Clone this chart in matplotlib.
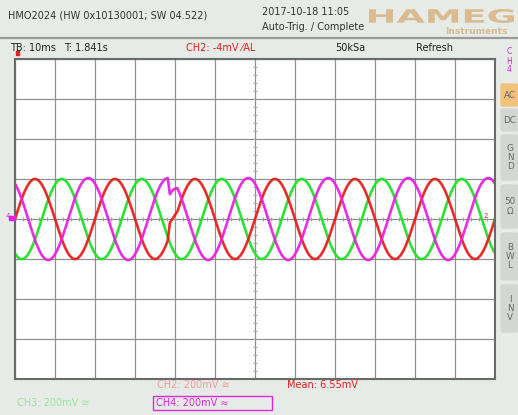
import numpy as np
import matplotlib
matplotlib.use("Agg")
import matplotlib.pyplot as plt
from matplotlib.patches import Rectangle, FancyBboxPatch, PathPatch
from matplotlib.textpath import TextPath
from matplotlib.font_manager import FontProperties
from matplotlib.transforms import Affine2D, IdentityTransform

tb_ms = 10          # ms por división
v_div = 200         # mV por división
n_div_x = 12
n_div_y = 8

# Señales trifásicas medidas: amplitud pico (mV), periodo (ms), instante del primer pico (ms)
canales = ["CH2", "CH3", "CH4"]
colores = ["#e8201c", "#22e02a", "#e424e0"]
amplitud = [200, 200, 205]
periodo = [20.0, 20.0, 20.0]
primer_pico = [5.0, 11.7, 18.3]

# Pequeño fallo visible cerca de t = 38 ms (desvío en mV)
fallo_t = [38.2, 38.7, 39.4, 40.6]
fallo_ch2 = [0, 60, 40, 0]
fallo_ch4 = [0, -80, -50, 0]

W, H = 518, 415
fig = plt.figure(figsize=(W / 100, H / 100), dpi=100)
fig.patch.set_facecolor("#e7ebe8")
plt.rcParams["font.family"] = ["DejaVu Sans"]


def fx(x):
    return x / W


def fy(y):
    return 1 - y / H


ax = fig.add_axes([fx(15), fy(379), 480 / W, 320 / H])
ax.set_facecolor("white")
ax.set_xlim(0, n_div_x * tb_ms)
ax.set_ylim(-n_div_y / 2 * v_div, n_div_y / 2 * v_div)
ax.set_xticks(np.arange(0, n_div_x * tb_ms + 1, tb_ms))
ax.set_yticks(np.arange(-n_div_y / 2 * v_div, n_div_y / 2 * v_div + 1, v_div))
ax.grid(True, color="#909090", lw=0.9)
ax.tick_params(length=0, labelbottom=False, labelleft=False)
for s in ax.spines.values():
    s.set_color("#6a6a6a")
    s.set_linewidth(1.5)

# marcas pequeñas en los ejes centrales
xm = np.arange(0, n_div_x * tb_ms + 0.1, tb_ms / 5)
ym = np.arange(-n_div_y / 2 * v_div, n_div_y / 2 * v_div + 1, v_div / 5)
ax.plot(xm, np.zeros_like(xm), ls="none", marker="|", ms=3, color="#a0a0a0", mew=0.7)
ax.plot(np.full_like(ym, 60.0), ym, ls="none", marker="_", ms=3, color="#a0a0a0", mew=0.7)

t = np.linspace(0, n_div_x * tb_ms, 2400)
fallos = [np.interp(t, fallo_t, fallo_ch2, left=0, right=0),
          np.zeros_like(t),
          np.interp(t, fallo_t, fallo_ch4, left=0, right=0)]
orden = [1, 0, 2]
for i in orden:
    v = amplitud[i] * np.cos(2 * np.pi * (t - primer_pico[i]) / periodo[i]) + fallos[i]
    ax.plot(t, v, color=colores[i], lw=1.9, alpha=0.95, solid_capstyle="butt")

# marcadores de referencia
fig.text(fx(6), fy(216), "4", color="#e424e0", fontsize=5, va="center")
fig.patches.append(Rectangle((fx(9), fy(220)), 6 / W, 4 / H, color="#e424e0", transform=fig.transFigure))
fig.patches.append(Rectangle((fx(16), fy(55)), 3 / W, 4 / H, color="#e8201c", transform=fig.transFigure))
fig.text(fx(484), fy(216), "2", color="#e8201c", fontsize=5, va="center")

# cabecera
gris = "#333333"
fs = 7.0
fig.text(fx(8), fy(15), "HMO2024 (HW 0x10130001; SW 04.522)", color=gris, fontsize=fs, va="center")
fig.text(fx(262), fy(12), "2017-10-18 11:05", color=gris, fontsize=fs, va="center")
fig.text(fx(262), fy(27), "Auto-Trig. / Complete", color=gris, fontsize=fs, va="center")

# logotipo: texto ensanchado para ocupar la caja del original
logo = "#d9bb8f"
tp = TextPath((0, 0), "HAMEG", size=10, prop=FontProperties(family="DejaVu Sans", weight="heavy"))
ext = tp.get_extents()
x0, x1, yt, yb = 369, 514, 9, 23
sx = (x1 - x0) / ext.width
sy = (yb - yt) / ext.height
tr = Affine2D().translate(-ext.x0, -ext.y0).scale(sx, sy).translate(x0, H - yb)
fig.patches.append(PathPatch(tr.transform_path(tp), color=logo, lw=0, transform=IdentityTransform()))
fig.text(fx(476), fy(31), "Instruments", color=logo, fontsize=6.5, fontweight="bold",
         ha="center", va="center")
fig.add_artist(plt.Line2D([0, 1], [fy(38.5), fy(38.5)], color="#9a9a9a", lw=1.6))

fig.text(fx(10), fy(48), "TB: 10ms", color="#222222", fontsize=fs, va="center")
fig.text(fx(64), fy(48), "T: 1.841s", color="#222222", fontsize=fs, va="center")
fig.text(fx(186), fy(48), "CH2: -4mV ⁄AL", color="#e8201c", fontsize=fs, va="center")
fig.text(fx(335), fy(48), "50kSa", color="#222222", fontsize=fs, va="center")
fig.text(fx(416), fy(48), "Refresh", color="#222222", fontsize=fs, va="center")
for letra, yl in zip("CH4", [52, 61, 70]):
    fig.text(fx(509), fy(yl), letra, color="#e424e0", fontsize=5.5, ha="center", va="center")

# botones laterales
botones = [("AC", 84, 106, "#f2c27a"), ("DC", 109, 131, "#d4d6d4"),
           ("G\nN\nD", 135, 180, "#d4d6d4"), ("50\nΩ", 185, 228, "#d4d6d4"),
           ("B\nW\nL", 233, 280, "#d4d6d4"), ("I\nN\nV", 285, 332, "#d4d6d4")]
for txt, y0, y1, col in botones:
    fig.patches.append(FancyBboxPatch((fx(501), fy(y1)), 17 / W, (y1 - y0) / H,
                                      boxstyle="round,pad=0,rounding_size=0.004",
                                      color=col, transform=fig.transFigure))
    fig.text(fx(510), fy((y0 + y1) / 2), txt, color="#666666", fontsize=6.3,
             ha="center", va="center", linespacing=1.05)

# pie
fig.text(fx(157), fy(385), "CH2: 200mV ≅", color="#f49a9a", fontsize=fs, va="center")
fig.text(fx(287), fy(385), "Mean: 6.55mV", color="#e8201c", fontsize=fs, va="center")
fig.text(fx(17), fy(403), "CH3: 200mV ≅", color="#9ae69a", fontsize=fs, va="center")
fig.patches.append(Rectangle((fx(153), fy(410)), 119 / W, 14 / H, fill=False,
                             ec="#e424e0", lw=1.0, transform=fig.transFigure))
fig.text(fx(156), fy(403), "CH4: 200mV ≈", color="#e424e0", fontsize=fs, va="center")

fig.savefig("out.png", dpi=100, facecolor=fig.get_facecolor())
